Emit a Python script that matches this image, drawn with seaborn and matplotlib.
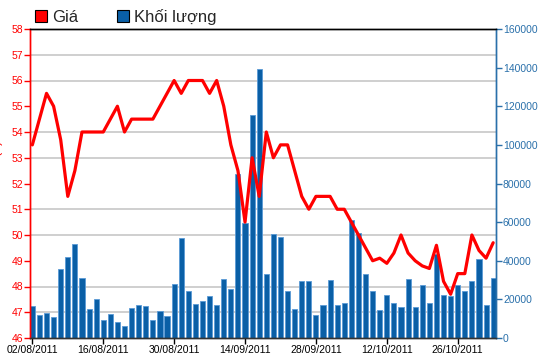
import matplotlib
matplotlib.use("Agg")
import matplotlib.pyplot as plt
from matplotlib.patches import Patch
import seaborn as sns
import pandas as pd

# trading days 02/08/2011 - 02/11/2011 (02/09 holiday)
dates = pd.bdate_range("2011-08-02", "2011-11-02")
dates = dates[dates != pd.Timestamp("2011-09-02")]
date_labels = [d.strftime("%d/%m/%Y") for d in dates]

price = [53.5, 54.5, 55.5, 55.0, 53.7, 51.5, 52.5, 54.0, 54.0, 54.0,
         54.0, 54.5, 55.0, 54.0, 54.5, 54.5, 54.5, 54.5, 55.0, 55.5,
         56.0, 55.5, 56.0, 56.0, 56.0, 55.5, 56.0, 55.0, 53.5, 52.5,
         50.5, 53.0, 51.5, 54.0, 53.0, 53.5, 53.5, 52.5, 51.5, 51.0,
         51.5, 51.5, 51.5, 51.0, 51.0, 50.5, 50.0, 49.5, 49.0, 49.1,
         48.9, 49.3, 50.0, 49.3, 49.0, 48.8, 48.7, 49.6, 48.2, 47.7,
         48.5, 48.5, 50.0, 49.4, 49.1, 49.7]

volume = [16570, 11900, 12770, 10700, 35730, 42100, 48500, 31240, 15190, 20370,
          9490, 12600, 8110, 6210, 15700, 17090, 16400, 9320, 13980, 11220,
          27960, 51600, 24160, 17600, 19160, 21570, 17090, 30550, 25370, 84750,
          59720, 115640, 139300, 33140, 53680, 52300, 24160, 15190, 29340, 29340,
          11740, 17090, 29860, 17090, 18300, 61100, 54200, 33140, 24160, 14500,
          22270, 18300, 15880, 30550, 15880, 27270, 18300, 43320, 22270, 22000,
          27270, 24160, 29340, 40730, 17260, 31240]

df = pd.DataFrame({"date": date_labels, "pos": range(len(date_labels)),
                   "price": price, "volume": volume})

red = "#ff0000"
blue = "#0a5fa6"
axis_blue = "#2a70aa"

sns.set_style("white")
plt.rcParams["font.family"] = ["Liberation Sans", "DejaVu Sans"]

fig, ax_vol = plt.subplots(figsize=(5.5, 3.64), dpi=100)
fig.subplots_adjust(left=30/550, right=496/550, top=1-29/364, bottom=1-338/364)
ax_p = ax_vol.twinx()

# volume bars (right axis)
sns.barplot(data=df, x="date", y="volume", ax=ax_vol, color=blue, saturation=1,
            width=0.72, edgecolor="#5a9ad6", linewidth=0.6, errorbar=None)
ax_vol.set_ylim(0, 160000)
ax_vol.set_xlim(-0.33, 65.4)
ax_vol.yaxis.tick_right()
ax_vol.set_yticks(range(0, 160001, 20000))
ax_vol.tick_params(axis="y", colors=axis_blue, labelsize=7.5, length=4, width=1,
                   direction="out", pad=1, labelright=True, labelleft=False,
                   right=True, left=False)
# gridlines at every price step, behind the bars
ax_vol.set_yticks([i * 160000 / 12 for i in range(1, 12)], minor=True)
ax_vol.tick_params(axis="y", which="minor", length=0)
ax_vol.grid(axis="y", which="minor", color="#cccccc", linewidth=1.3)
ax_vol.set_axisbelow(True)
ax_vol.set_xlabel("")
ax_vol.set_ylabel("")

ax_vol.set_xticks(range(0, len(date_labels), 10))
ax_vol.set_xticklabels(date_labels[::10])
ax_vol.tick_params(axis="x", colors="black", labelsize=7.5, length=4, width=1,
                   direction="out", pad=1, bottom=True)

# price line (left axis)
sns.lineplot(data=df, x="pos", y="price", ax=ax_p, color=red, linewidth=2.3)
ax_p.set_ylim(46, 58)
ax_p.set_yticks(range(46, 59))
ax_p.tick_params(axis="y", colors=red, labelsize=7.5, length=4, width=1,
                 direction="out", pad=1, left=True, labelleft=True,
                 right=False, labelright=False)
ax_p.set_xlabel("")
ax_p.set_ylabel("")
ax_p.set_xlim(-0.33, 65.4)

for a in (ax_vol, ax_p):
    a.spines["left"].set_color(red)
    a.spines["right"].set_color(axis_blue)
    a.spines["top"].set_color("black")
    a.spines["bottom"].set_color("#333333")
    for s in a.spines.values():
        s.set_linewidth(1)

fig.text(-0.006, 0.56, "Giá (đ)", rotation=90, color=red, fontsize=9,
         ha="center", va="center")

handles = [Patch(facecolor=red, edgecolor="black", linewidth=0.8),
           Patch(facecolor=blue, edgecolor="black", linewidth=0.8)]
fig.legend(handles, ["Giá", "Khối lượng"], loc="upper left",
           bbox_to_anchor=(35/550, 1 - 9/364), ncol=2, frameon=False,
           fontsize=12, handlelength=0.75, handleheight=0.75,
           handletextpad=0.3, columnspacing=2.3, borderpad=0, borderaxespad=0)

fig.savefig("out.png", dpi=100)
